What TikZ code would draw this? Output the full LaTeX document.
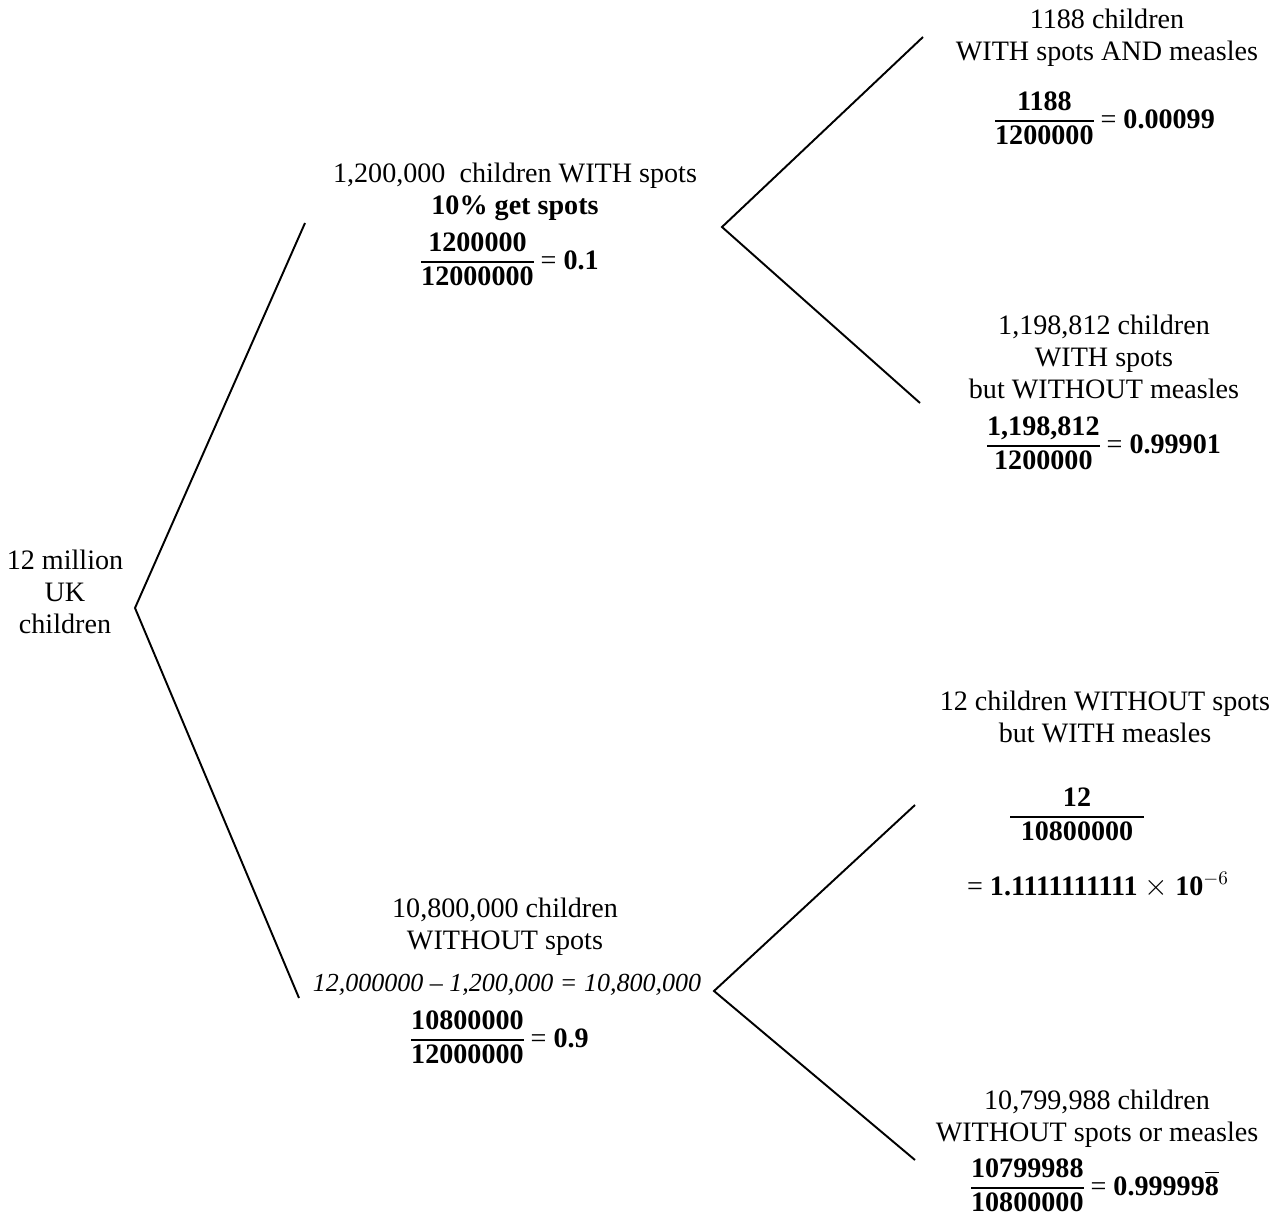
\documentclass[tikz,border=0pt]{standalone}
\usepackage{amsmath}
\usepackage{fontspec}
\setmainfont{Liberation Serif}
\usetikzlibrary{positioning}

% bold stacked fraction, optional padding of the rule
\newcommand{\stackfrac}[3][0pt]{$\vcenter{\hbox{\setlength{\arrayrulewidth}{0.8pt}%
  \begin{tabular}{@{\hspace{#1}}c@{\hspace{#1}}}\textbf{#2}\\\hline\textbf{#3}\end{tabular}}}$}

\begin{document}
\begin{tikzpicture}[
  x=0.2mm, y=-0.2mm,
  lbl/.style={align=center, font=\fontsize{16}{18.4}\selectfont, inner sep=0pt},
  frac/.style={font=\fontsize{16}{18.4}\selectfont, inner sep=0pt},
  branch/.style={draw=black, line width=1.1pt}
]
  \useasboundingbox (0,0) rectangle (1277,1220);
  % text of the tree
  \node[lbl] (root) at (65,592) {12 million\\UK\\children};
  \node[lbl] (spots) at (515,192) {1,200,000\ \ children WITH spots\\\textbf{10\% get spots}};
  \node[frac] (spotsfrac) at (510,262) {\stackfrac{1200000}{12000000} = \textbf{0.1}};
  \node[lbl] (nospots) at (505,927) {10,800,000 children\\WITHOUT spots};
  \node[lbl, font=\fontsize{14.8}{17}\selectfont] (nospotscalc) at (507,985) {\textit{12,000000 -- 1,200,000 = 10,800,000}};
  \node[frac] (nospotsfrac) at (500,1040) {\stackfrac{10800000}{12000000} = \textbf{0.9}};
  \node[lbl] (sm) at (1107,38) {1188 children\\WITH spots AND measles};
  \node[frac] (smfrac) at (1105,121) {\stackfrac{1188}{1200000} = \textbf{0.00099}};
  \node[lbl] (snm) at (1104,357) {1,198,812 children\\WITH spots\\but WITHOUT measles};
  \node[frac] (snmfrac) at (1104,446) {\stackfrac{1,198,812}{1200000} = \textbf{0.99901}};
  \node[lbl] (nsm) at (1105,717) {12 children WITHOUT spots\\but WITH measles};
  \node[frac] (nsmfrac) at (1077,817) {\stackfrac[6pt]{12}{10800000}};
  \node[frac] (nsmval) at (1098,885) {= \textbf{1.1111111111} $\times$ \textbf{10}$^{-6}$};
  \node[lbl] (nn) at (1097,1119) {10,799,988 children\\WITHOUT spots or measles};
  \node[frac] (nnfrac) at (1095,1188) {\stackfrac{10799988}{10800000} = \textbf{0.99999}$\overline{\textbf{8}}$};
  % fork points and branch ends
  \coordinate (rootfork) at (135,608);
  \coordinate (spotsend) at (305,223);
  \coordinate (nospotsend) at (299,998);
  \coordinate (spotsfork) at (722,227);
  \coordinate (nospotsfork) at (714,991);
  \coordinate (smend) at (923,37);
  \coordinate (snmend) at (920,403);
  \coordinate (nsmend) at (915,805);
  \coordinate (nnend) at (915,1160);
  \draw[branch] (spotsend) -- (rootfork) -- (nospotsend);
  \draw[branch] (smend) -- (spotsfork) -- (snmend);
  \draw[branch] (nsmend) -- (nospotsfork) -- (nnend);
\end{tikzpicture}
\end{document}
